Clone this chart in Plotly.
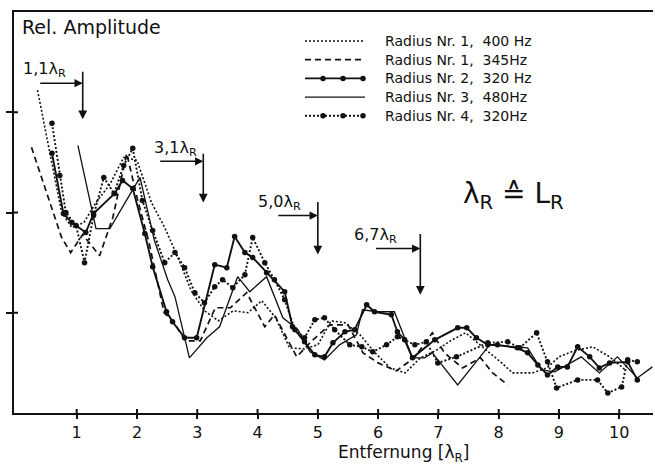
import plotly.graph_objects as go

# ---------------- data: distance [lambda_R] vs relative amplitude ----------------
# Radius Nr. 1, 400 Hz (dotted)
x_r1_400 = [0.35, 0.75, 0.92, 1.12, 1.32, 1.55, 1.78, 2.0, 2.24, 2.46, 2.68, 2.9, 3.12, 3.35,
            3.6, 3.84, 4.07, 4.3, 4.53, 4.77, 5.0, 5.22, 5.45, 5.7, 5.95, 6.2, 6.45, 6.7, 6.95,
            7.2, 7.45, 7.8, 8.05, 8.23, 8.56, 8.8, 9.0, 9.25, 9.56, 9.84, 10.1]
y_r1_400 = [3.22, 2.0, 1.85, 1.9, 2.1, 2.28, 2.55, 2.52, 2.1, 1.85, 1.55, 1.22, 1.02, 0.92,
            1.02, 1.0, 1.12, 0.95, 0.65, 0.64, 0.68, 0.92, 0.9, 0.78, 0.6, 0.45, 0.4, 0.55, 0.62,
            0.72, 0.8, 0.63, 0.5, 0.4, 0.4, 0.45, 0.56, 0.62, 0.66, 0.56, 0.43]

# Radius Nr. 1, 345 Hz (dashed)
x_r1_345 = [0.25, 0.55, 0.75, 0.9, 1.1, 1.38, 1.6, 1.83, 2.0, 2.2, 2.45, 2.62, 2.8, 3.05, 3.3,
            3.55, 3.82, 4.12, 4.28, 4.65, 4.9, 5.2, 5.5, 5.75, 6.0, 6.3, 6.6, 6.9, 7.1, 7.4,
            7.7, 7.9, 8.15]
y_r1_345 = [2.65, 2.1, 1.75, 1.6, 1.78, 1.57, 1.95, 2.59, 2.15, 1.7, 1.0, 0.9, 0.72, 0.72, 1.05,
            1.05, 1.2, 0.86, 0.98, 0.56, 0.72, 0.88, 0.88, 0.6, 0.5, 0.42, 0.55, 0.8, 0.6, 0.45,
            0.55, 0.4, 0.28]

# Radius Nr. 2, 320 Hz (solid with dots)
x_r2_320 = [0.59, 0.78, 0.92, 1.15, 1.28, 1.63, 1.76, 1.93, 2.13, 2.26, 2.49, 2.59, 2.79, 2.99,
            3.29, 3.49, 3.62, 3.79, 3.92, 4.15, 4.45, 4.58, 4.78, 4.95, 5.11, 5.25, 5.45, 5.61,
            5.81, 5.94, 6.22, 6.32, 6.44, 6.57, 6.94, 7.32, 7.47, 7.63, 7.82, 7.98, 8.31, 8.48,
            8.65, 8.81, 8.98, 9.14, 9.31, 9.51, 9.67, 9.84, 10.14, 10.3]
y_r2_320 = [2.59, 1.99, 1.9, 1.8, 1.99, 2.19, 2.32, 2.24, 1.79, 1.46, 1.01, 0.91, 0.75, 0.75,
            1.48, 1.45, 1.76, 1.6, 1.55, 1.4, 1.21, 0.86, 0.71, 0.58, 0.56, 0.7, 0.81, 0.83,
            1.08, 1.01, 0.98, 0.81, 0.73, 0.55, 0.73, 0.85, 0.85, 0.75, 0.68, 0.68, 0.65, 0.6,
            0.48, 0.38, 0.46, 0.46, 0.66, 0.56, 0.45, 0.5, 0.51, 0.33]

# Radius Nr. 3, 480 Hz (solid)
x_r3_480 = [1.02, 1.25, 1.32, 1.55, 2.05, 2.29, 2.51, 2.63, 2.87, 3.16, 3.37, 3.67, 3.87, 4.15,
            4.42, 4.67, 4.87, 5.11, 5.36, 5.64, 5.74, 5.99, 6.27, 6.57, 6.77, 6.9, 7.32, 7.85,
            8.48, 8.71, 8.93, 9.37, 9.67, 9.97, 10.3, 10.55]
y_r3_480 = [2.67, 2.02, 1.84, 1.84, 2.35, 1.72, 1.33, 1.16, 0.55, 0.75, 0.86, 1.36, 1.21, 1.36,
            0.95, 0.83, 0.61, 0.53, 0.68, 0.78, 1.03, 1.01, 1.01, 0.55, 0.55, 0.6, 0.28, 0.68,
            0.65, 0.43, 0.41, 0.56, 0.4, 0.56, 0.35, 0.46]

# Radius Nr. 4, 320 Hz (dotted with dots)
x_r4_320 = [0.59, 0.72, 0.82, 0.99, 1.13, 1.28, 1.45, 1.62, 1.78, 1.93, 2.09, 2.26, 2.46, 2.63,
            2.79, 2.96, 3.12, 3.29, 3.42, 3.59, 3.79, 3.92, 4.12, 4.28, 4.45, 4.62, 4.78, 4.95,
            5.11, 5.28, 5.53, 5.73, 5.91, 6.14, 6.32, 6.61, 6.8, 6.99, 7.3, 7.82, 8.15, 8.35,
            8.63, 8.81, 8.96, 9.31, 9.64, 9.81, 10.04, 10.14, 10.3]
y_r4_320 = [2.89, 2.37, 2.0, 1.87, 1.5, 1.97, 2.35, 2.19, 2.47, 2.64, 2.12, 1.82, 1.5, 1.6,
            1.45, 1.2, 1.1, 1.26, 1.33, 1.25, 1.38, 1.75, 1.5, 1.33, 1.13, 0.83, 0.75, 0.93,
            0.95, 0.83, 0.68, 0.66, 0.61, 0.68, 0.76, 0.68, 0.71, 0.5, 0.56, 0.7, 0.71, 0.65,
            0.8, 0.51, 0.25, 0.33, 0.33, 0.2, 0.26, 0.53, 0.51]

series_labels = ["Radius Nr. 1,  400 Hz", "Radius Nr. 1,  345Hz", "Radius Nr. 2,  320 Hz",
                 "Radius Nr. 3,  480Hz", "Radius Nr. 4,  320Hz"]

# marked distances (arrows) in units of lambda_R
mark_pos = [1.1, 3.1, 5.0, 6.7]
mark_text = ["1,1\u03bb<sub>R</sub>", "3,1\u03bb<sub>R</sub>",
             "5,0\u03bb<sub>R</sub>", "6,7\u03bb<sub>R</sub>"]

x_ticks = [1, 2, 3, 4, 5, 6, 7, 8, 9, 10]
y_ticks = [1, 2, 3]

# ---------------- styling ----------------
FONT = "DejaVu Sans"
INK = "#111111"
X_RANGE = [-0.04, 10.56]
Y_RANGE = [0, 4.0]
PLOT_W, PLOT_H = 639, 401  # plot area in px

styles = [
    dict(mode="lines", line=dict(color=INK, width=1.6, dash="2px,2px")),
    dict(mode="lines", line=dict(color=INK, width=1.7, dash="6px,4px")),
    dict(mode="lines+markers", line=dict(color=INK, width=1.9),
         marker=dict(color=INK, size=5.5)),
    dict(mode="lines", line=dict(color=INK, width=1.3)),
    dict(mode="lines+markers", line=dict(color=INK, width=1.9, dash="2px,2px"),
         marker=dict(color=INK, size=5.5)),
]

series = [(x_r1_400, y_r1_400), (x_r1_345, y_r1_345), (x_r2_320, y_r2_320),
          (x_r3_480, y_r3_480), (x_r4_320, y_r4_320)]

fig = go.Figure()
for (xs, ys), st in zip(series, styles):
    fig.add_trace(go.Scatter(x=xs, y=ys, showlegend=False, hoverinfo="skip", **st))

# ---------------- hand-made key (pixel space overlay) ----------------
KEY_X0, KEY_X1, KEY_TXT = 305, 365, 383
KEY_Y0, KEY_DY = 41, 18.7
key_dots = [323, 343, 363]
for i, (lab, st) in enumerate(zip(series_labels, styles)):
    yk = KEY_Y0 + i * KEY_DY
    fig.add_trace(go.Scatter(x=[KEY_X0, KEY_X1], y=[yk, yk], mode="lines", line=st["line"],
                             xaxis="x3", yaxis="y3", showlegend=False, hoverinfo="skip"))
    if "markers" in st["mode"]:
        fig.add_trace(go.Scatter(x=key_dots, y=[yk] * len(key_dots), mode="markers",
                                 marker=st["marker"], xaxis="x3", yaxis="y3",
                                 showlegend=False, hoverinfo="skip"))
    fig.add_annotation(x=KEY_TXT, y=yk, xref="x3", yref="y3", text=lab, showarrow=False,
                       xanchor="left", yanchor="middle",
                       font=dict(family=FONT, size=14, color=INK))

# ---------------- arrows marking the distances ----------------
# per mark: (top of vertical stem, arrow tip, horizontal arrow y, horizontal start x, label x, label y)
mark_geom = [
    (3.42, 2.93, 3.29, 0.37, 0.47, 3.43),
    (2.60, 2.10, 2.51, 2.36, 2.64, 2.64),
    (2.12, 1.58, 1.97, 4.32, 4.37, 2.10),
    (1.80, 1.18, 1.64, 5.94, 5.95, 1.77),
]
for xm, txt, (ytop, ytip, yh, xh0, xl, yl) in zip(mark_pos, mark_text, mark_geom):
    fig.add_annotation(x=xm, y=ytip, ax=xm, ay=ytop, xref="x", yref="y", axref="x", ayref="y",
                       text="", showarrow=True, arrowhead=2, arrowsize=1.1, arrowwidth=1.6,
                       arrowcolor=INK, standoff=0, startstandoff=0)
    fig.add_annotation(x=xm, y=yh, ax=xh0, ay=yh, xref="x", yref="y", axref="x", ayref="y",
                       text="", showarrow=True, arrowhead=2, arrowsize=1.1, arrowwidth=1.5,
                       arrowcolor=INK, standoff=0, startstandoff=0)
    fig.add_annotation(x=xl, y=yl, xref="x", yref="y", text=txt, showarrow=False,
                       xanchor="center", yanchor="middle",
                       font=dict(family=FONT, size=16, color=INK))

# ---------------- text labels ----------------
fig.add_annotation(x=0.06, y=3.85, xref="x", yref="y", text="Rel. Amplitude", showarrow=False,
                   xanchor="left", yanchor="middle", font=dict(family=FONT, size=19, color=INK))
fig.add_annotation(x=8.25, y=2.17, xref="x", yref="y",
                   text="\u03bb<sub>R</sub> \u2259 L<sub>R</sub>", showarrow=False,
                   xanchor="center", yanchor="middle", font=dict(family=FONT, size=28, color=INK))
fig.add_annotation(x=0.609, y=-0.102, xref="paper", yref="paper",
                   text="Entfernung [\u03bb<sub>R</sub>]", showarrow=False,
                   xanchor="center", yanchor="middle", font=dict(family=FONT, size=17, color=INK))

# inner halves of the crossing tick marks
for v in x_ticks:
    fig.add_shape(type="line", xref="x", yref="paper", x0=v, x1=v, y0=0, y1=4 / PLOT_H,
                  line=dict(color=INK, width=2))
for v in y_ticks:
    fig.add_shape(type="line", xref="paper", yref="y", x0=0, x1=4 / PLOT_W, y0=v, y1=v,
                  line=dict(color=INK, width=2))

axis_common = dict(showgrid=False, zeroline=False, color=INK)
fig.update_layout(
    width=655, height=466,
    margin=dict(l=14, r=2, t=12, b=53),
    paper_bgcolor="white", plot_bgcolor="rgba(0,0,0,0)",
    font=dict(family=FONT, color=INK),
    xaxis=dict(range=X_RANGE, tickvals=x_ticks, ticktext=[str(v) for v in x_ticks],
               ticks="outside", ticklen=4, tickwidth=2, tickcolor=INK,
               showline=True, linewidth=2, linecolor=INK, mirror=True,
               tickfont=dict(family=FONT, size=16, color=INK), **axis_common),
    yaxis=dict(range=Y_RANGE, tickvals=y_ticks, showticklabels=False,
               ticks="outside", ticklen=6, tickwidth=2, tickcolor=INK,
               showline=True, linewidth=2, linecolor=INK, **axis_common),
    # pixel-space overlay for the key
    xaxis3=dict(range=[14, 653], domain=[0, 1], anchor="y3", visible=False, fixedrange=True),
    yaxis3=dict(range=[413, 12], domain=[0, 1], anchor="x3", visible=False, fixedrange=True),
)

fig.write_html("out.html")
